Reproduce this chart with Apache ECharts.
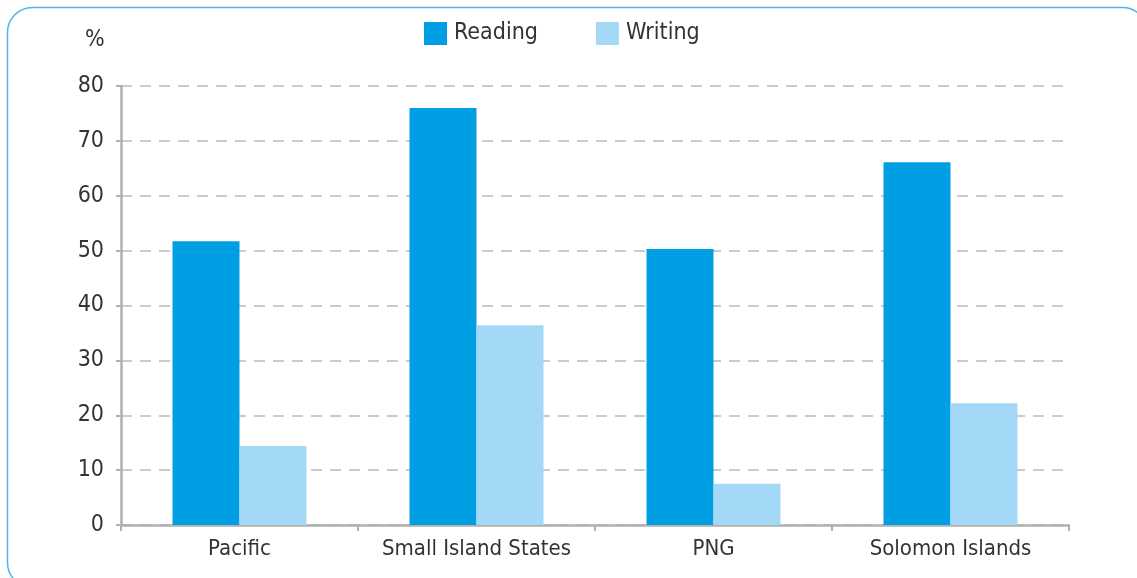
<!DOCTYPE html>
<html><head><meta charset="utf-8">
<script src="https://cdn.jsdelivr.net/npm/echarts@6/dist/echarts.min.js"></script>
<style>html,body{margin:0;padding:0;background:#fff}#c{width:1137px;height:578px}</style>
</head><body><div id="c"></div>
<script>
const categories = ['Pacific', 'Small Island States', 'PNG', 'Solomon Islands'];
const reading = [51.7, 76.0, 50.3, 66.1];
const writing = [14.4, 36.4, 7.5, 22.2];
const yTicks = [0, 10, 20, 30, 40, 50, 60, 70, 80];

const FONT = '"DejaVu Sans Condensed", "Liberation Sans Narrow", sans-serif';
const chart = echarts.init(document.getElementById('c'));
chart.setOption({
  animation: false,
  graphic: [
    { type: 'rect', shape: { x: 7.5, y: 7.5, width: 1140, height: 580, r: 25 },
      style: { fill: 'none', stroke: '#4DB5E6', lineWidth: 1.5 }, z: -1 },
    { type: 'text', left: 85, top: 29, style: { text: '%', font: '23px ' + FONT, fill: '#333' } }
  ],
  legend: {
    top: 17, left: 419, itemWidth: 23, itemHeight: 23, itemGap: 58,
    textStyle: { fontFamily: FONT, fontSize: 23, color: '#333', padding: [5, 0, 0, 2] },
    icon: 'rect'
  },
  grid: { left: 121, right: 68, top: 86, bottom: 53, containLabel: false },
  xAxis: {
    type: 'category', data: categories,
    axisLine: { lineStyle: { color: '#b0b0b0', width: 2.5 } },
    axisTick: { show: true, interval: 0, length: 6, lineStyle: { color: '#b0b0b0', width: 2 } },
    axisLabel: { interval: 0, fontFamily: FONT, fontSize: 22, color: '#333', margin: 13 }
  },
  yAxis: {
    type: 'value', min: 0, max: 80, interval: 10,
    axisLine: { show: true, lineStyle: { color: '#b0b0b0', width: 2.5 } },
    axisTick: { show: true, length: 5, lineStyle: { color: '#b0b0b0', width: 2 } },
    axisLabel: { fontFamily: FONT, fontSize: 23, color: '#333', margin: 17,
      formatter: v => yTicks.includes(v) ? String(v) : '' },
    splitLine: { show: true, lineStyle: { color: '#bbb', width: 1.5, type: [11, 8] } }
  },
  series: [
    { name: 'Reading', type: 'bar', data: reading, barWidth: 67, barGap: '0%',
      itemStyle: { color: '#009FE3' } },
    { name: 'Writing', type: 'bar', data: writing, barWidth: 67,
      itemStyle: { color: '#A3D9F6' } }
  ]
});
</script></body></html>
